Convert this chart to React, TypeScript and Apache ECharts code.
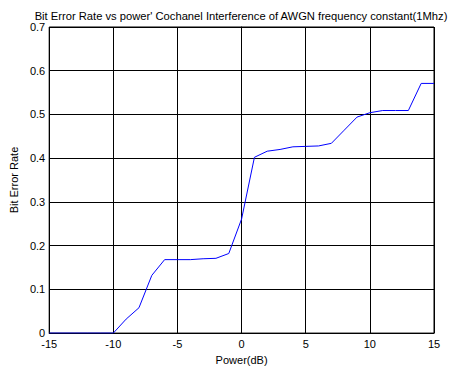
import React, { useEffect, useRef } from "react";
import * as echarts from "echarts";

const powerDb = [-15, -14, -13, -12, -11, -10, -9, -8, -7, -6, -5, -4, -3, -2, -1, 0, 1, 2, 3, 4, 5, 6, 7, 8, 9, 10, 11, 12, 13, 14, 15];
const bitErrorRate = [0, 0, 0, 0, 0, 0, 0.032, 0.058, 0.132, 0.168, 0.168, 0.168, 0.17, 0.171, 0.182, 0.261, 0.402, 0.416, 0.42, 0.426, 0.427, 0.428, 0.434, 0.464, 0.494, 0.504, 0.509, 0.509, 0.509, 0.571, 0.571];

const titleText = "Bit Error Rate vs power' Cochanel Interference of AWGN frequency constant(1Mhz)";
const xName = "Power(dB)";
const yName = "Bit Error Rate";

export default function App() {
  const ref = useRef<HTMLDivElement>(null);
  useEffect(() => {
    if (!ref.current) return;
    const chart = echarts.init(ref.current, null, { renderer: "svg" });
    const font = "'Liberation Sans', Arial, sans-serif";
    chart.setOption({
      animation: false,
      backgroundColor: "#fff",
      title: {
        text: titleText,
        left: 236,
        textAlign: "center",
        top: 5,
        textStyle: { fontFamily: font, fontSize: 11.2, fontWeight: "normal", color: "#000" },
      },
      grid: {
        left: 47,
        right: 19,
        top: 27,
        bottom: 35,
        show: true,
        borderColor: "#000",
        borderWidth: 1,
        backgroundColor: "#fff",
      },
      xAxis: {
        type: "value",
        min: -15,
        max: 15,
        interval: 5,
        name: xName,
        nameLocation: "middle",
        nameGap: 20,
        nameTextStyle: { fontFamily: font, fontSize: 11, color: "#000" },
        axisLine: { show: true, lineStyle: { color: "#000", width: 1 } },
        axisTick: { show: false },
        axisLabel: { fontFamily: font, fontSize: 11, color: "#000", margin: 5 },
        splitLine: { show: true, lineStyle: { color: "#000", width: 1 } },
      },
      yAxis: {
        type: "value",
        min: 0,
        max: 0.7,
        interval: 0.1,
        name: yName,
        nameLocation: "middle",
        nameGap: 28,
        nameTextStyle: { fontFamily: font, fontSize: 11, color: "#000" },
        axisLine: { show: true, lineStyle: { color: "#000", width: 1 } },
        axisTick: { show: false },
        axisLabel: { fontFamily: font, fontSize: 11, color: "#000", margin: 4 },
        splitLine: { show: true, lineStyle: { color: "#000", width: 1 } },
      },
      series: [
        {
          type: "line",
          data: powerDb.map((x, i) => [x, bitErrorRate[i]]),
          showSymbol: false,
          symbol: "none",
          lineStyle: { color: "#0000ff", width: 1 },
          z: 5,
        },
      ],
    });
    return () => chart.dispose();
  }, []);
  return (
    <div
      ref={ref}
      style={{ position: "fixed", left: 0, top: 0, width: 453, height: 370 }}
    />
  );
}
